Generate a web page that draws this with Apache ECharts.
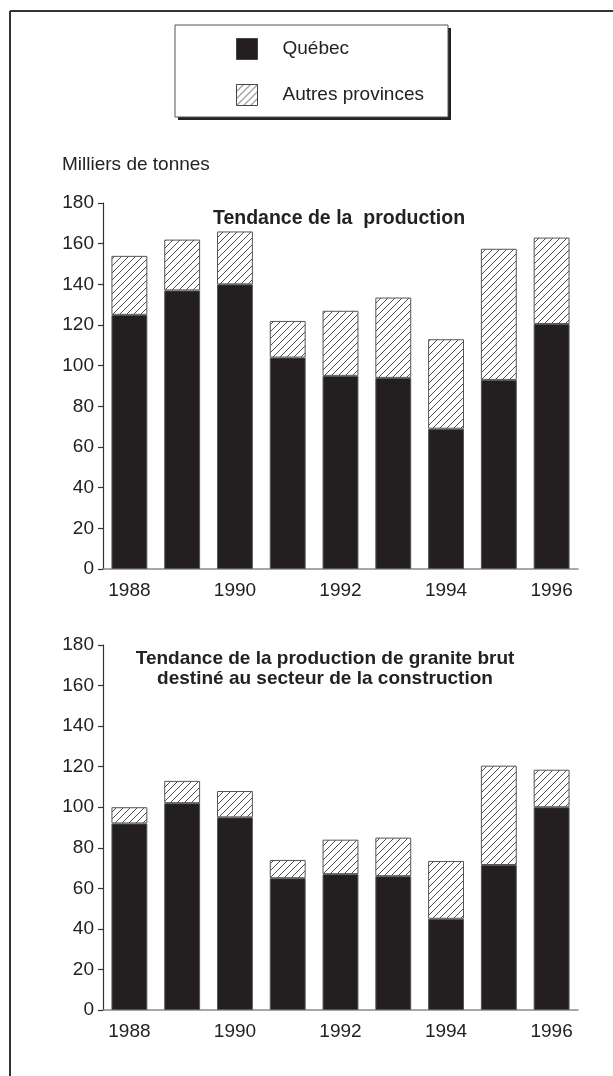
<!DOCTYPE html>
<html>
<head>
<meta charset="utf-8">
<script src="https://cdn.jsdelivr.net/npm/echarts@6/dist/echarts.min.js"></script>
<style>
html,body{margin:0;padding:0;background:#fff;}
#chart{width:613px;height:1076px;}
</style>
</head>
<body>
<div id="chart"></div>
<script>
var years = ['1988','1989','1990','1991','1992','1993','1994','1995','1996'];
var topQuebec = [125, 137, 140, 104, 95, 94, 69, 93, 120.5];
var topAutres = [29, 25, 26, 18, 32, 39.5, 44, 64.5, 42.5];
var botQuebec = [92, 102, 95, 65, 67, 66, 45, 71.5, 100];
var botAutres = [8, 11, 13, 9, 17, 19, 28.5, 49, 18.5];
var seriesNames = ['Québec', 'Autres provinces'];
var topTitle = 'Tendance de la  production';
var botTitle = 'Tendance de la production de granite brut\ndestiné au secteur de la construction';
var unitLabel = 'Milliers de tonnes';

var FONT = '"Liberation Sans", Arial, sans-serif';
var BLACK = '#231f20';

function hatch() {
  var s = 7;
  var c = document.createElement('canvas');
  c.width = s; c.height = s;
  var g = c.getContext('2d');
  g.fillStyle = '#fff';
  g.fillRect(0, 0, s, s);
  g.strokeStyle = '#3a3a3a';
  g.lineWidth = 0.9;
  g.beginPath();
  g.moveTo(0, s); g.lineTo(s, 0);
  g.moveTo(-1, 1); g.lineTo(1, -1);
  g.moveTo(s - 1, s + 1); g.lineTo(s + 1, s - 1);
  g.stroke();
  return c;
}
var hatchFill = { image: hatch(), repeat: 'repeat' };

var chart = echarts.init(document.getElementById('chart'), null, { renderer: 'canvas' });

function xAx(gi) {
  return {
    type: 'category', gridIndex: gi, data: years,
    axisLine: { lineStyle: { color: '#8a8a8a', width: 1.5 } },
    axisTick: { show: false },
    axisLabel: { interval: 1, fontSize: 19, color: '#222', fontFamily: FONT, margin: 12 }
  };
}
function yAx(gi) {
  return {
    type: 'value', gridIndex: gi, min: 0, max: 180, interval: 20,
    axisLine: { show: true, lineStyle: { color: '#333', width: 1.2 } },
    axisTick: { show: true, length: 5, lineStyle: { color: '#333', width: 1.2 } },
    splitLine: { show: false },
    axisLabel: { fontSize: 19, color: '#222', fontFamily: FONT, margin: 9 }
  };
}
function barSeries(name, data, gi, stack, fill) {
  return {
    name: name, type: 'bar', stack: stack, xAxisIndex: gi, yAxisIndex: gi,
    data: data, barWidth: '68%',
    itemStyle: { color: fill, borderColor: '#555', borderWidth: 1 }
  };
}

chart.setOption({
  animation: false,
  backgroundColor: '#fff',
  textStyle: { fontFamily: FONT },
  graphic: [
    { type: 'line', z: 1, shape: { x1: 10, y1: 11, x2: 613, y2: 11 }, style: { stroke: '#333', lineWidth: 2 } },
    { type: 'line', z: 1, shape: { x1: 10, y1: 11, x2: 10, y2: 1076 }, style: { stroke: '#333', lineWidth: 2 } },
    { type: 'rect', z: 1, shape: { x: 178, y: 28, width: 273, height: 92 }, style: { fill: '#222' } },
    { type: 'rect', z: 2, shape: { x: 175, y: 25, width: 273, height: 92 }, style: { fill: '#fff', stroke: '#555', lineWidth: 1 } }
  ],
  title: [
    { text: unitLabel, left: 62, top: 155, padding: 0, textStyle: { fontSize: 19, fontWeight: 'normal', color: '#222', fontFamily: FONT } },
    { text: topTitle, left: 339, top: 209, padding: 0, textAlign: 'center', textStyle: { fontSize: 19.5, fontWeight: 'bold', color: '#222', fontFamily: FONT } },
    { text: botTitle, left: 325, top: 649, padding: 0, textAlign: 'center', textStyle: { fontSize: 19, fontWeight: 'bold', color: '#222', fontFamily: FONT, lineHeight: 20 } }
  ],
  legend: {
    data: seriesNames, orient: 'vertical', left: 236, top: 38, padding: 0,
    itemWidth: 21, itemHeight: 21, itemGap: 24, z: 10, icon: 'rect',
    itemStyle: { borderColor: '#444', borderWidth: 1 },
    textStyle: { fontSize: 19, color: '#222', fontFamily: FONT, padding: [0, 0, 0, 20] }
  },
  grid: [
    { left: 103, right: 35, top: 203, height: 366 },
    { left: 103, right: 35, top: 645, height: 365 }
  ],
  xAxis: [xAx(0), xAx(1)],
  yAxis: [yAx(0), yAx(1)],
  series: [
    barSeries(seriesNames[0], topQuebec, 0, 'a', BLACK),
    barSeries(seriesNames[1], topAutres, 0, 'a', hatchFill),
    barSeries(seriesNames[0], botQuebec, 1, 'b', BLACK),
    barSeries(seriesNames[1], botAutres, 1, 'b', hatchFill)
  ]
});
</script>
</body>
</html>
